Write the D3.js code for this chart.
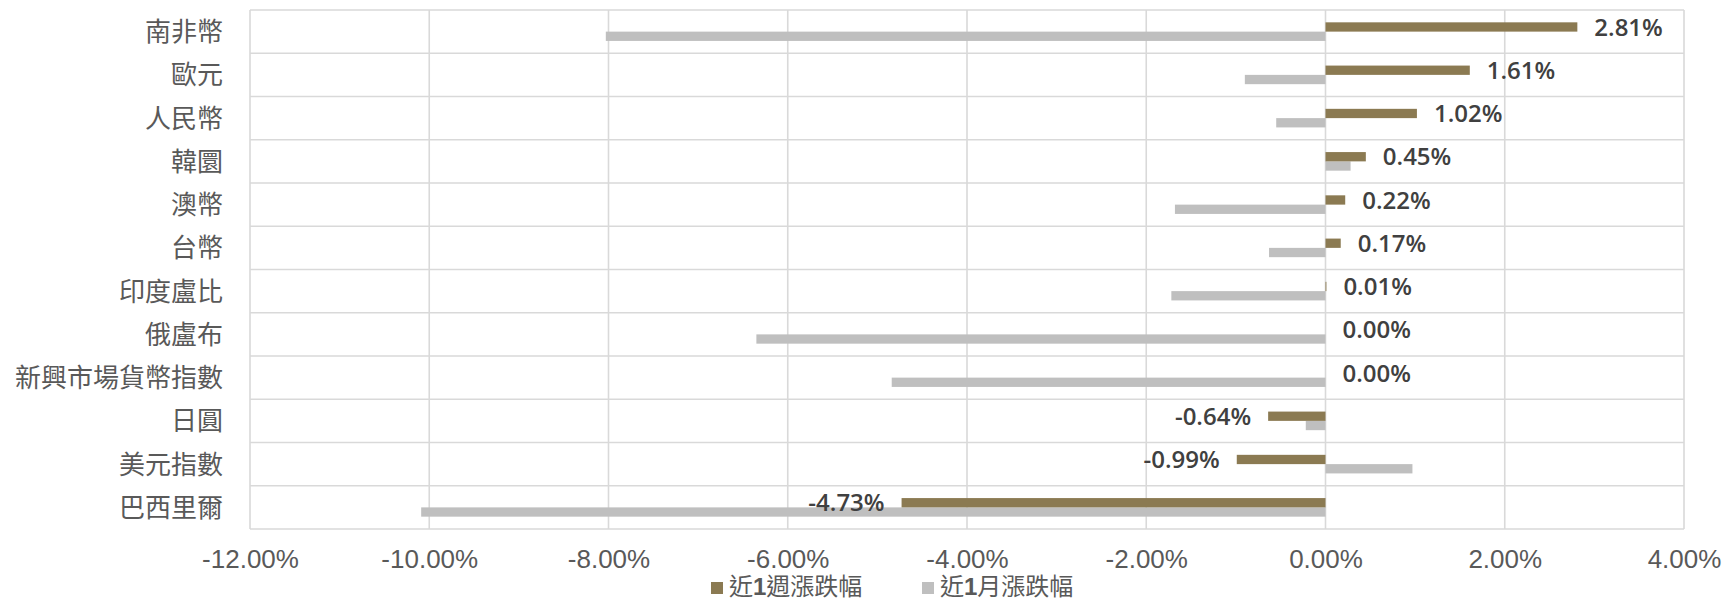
<!DOCTYPE html>
<html lang="zh-Hant">
<head>
<meta charset="utf-8">
<script src="https://cdn.jsdelivr.net/npm/d3@7"></script>
<style>
  html, body { margin: 0; padding: 0; background: #ffffff; }
  svg { display: block; }
</style>
</head>
<body>
<svg id="chart" width="1725" height="601"></svg>
<script>
// Currency moves: last week vs last month (%)
const categories = ["南非幣", "歐元", "人民幣", "韓圜", "澳幣", "台幣", "印度盧比", "俄盧布", "新興市場貨幣指數", "日圓", "美元指數", "巴西里爾"];
const weekChange = [2.81, 1.61, 1.02, 0.45, 0.22, 0.17, 0.01, 0.00, 0.00, -0.64, -0.99, -4.73];
const monthChange = [-8.03, -0.90, -0.55, 0.28, -1.68, -0.63, -1.72, -6.35, -4.84, -0.22, 0.97, -10.09];
const xTicks = [-12, -10, -8, -6, -4, -2, 0, 2, 4];
const seriesNames = ["近1週漲跌幅", "近1月漲跌幅"];
const seriesColors = ["#8b7a52", "#bfbfbf"];

const margin = { left: 250, right: 41, top: 10, bottom: 72 };
const width = 1725, height = 601;
const plotW = width - margin.left - margin.right;
const plotH = height - margin.top - margin.bottom;

const svg = d3.select("#chart");
const g = svg.append("g").attr("transform", `translate(${margin.left},${margin.top})`);

const x = d3.scaleLinear().domain([-12, 4]).range([0, plotW]);
const y = d3.scaleBand().domain(categories).range([0, plotH]).padding(0);
const barH = y.bandwidth() * 0.215;

const gridColor = "#d9d9d9";

// vertical gridlines at each tick (includes the plot's left and right edges)
g.append("g").selectAll("line").data(xTicks).join("line")
  .attr("x1", d => x(d)).attr("x2", d => x(d))
  .attr("y1", 0).attr("y2", plotH)
  .attr("stroke", gridColor).attr("stroke-width", 1.6);

// horizontal lines between categories
const rowEdges = categories.map(c => y(c)).concat([plotH]);
g.append("g").selectAll("line").data(rowEdges).join("line")
  .attr("x1", 0).attr("x2", plotW)
  .attr("y1", d => d).attr("y2", d => d)
  .attr("stroke", gridColor).attr("stroke-width", 1.6);

const rows = categories.map((c, i) => ({ c, week: weekChange[i], month: monthChange[i] }));
const center = d => y(d.c) + y.bandwidth() / 2;

// month bars (lower of each pair)
g.append("g").selectAll("rect").data(rows).join("rect")
  .attr("x", d => x(Math.min(0, d.month)))
  .attr("width", d => Math.abs(x(d.month) - x(0)))
  .attr("y", d => center(d))
  .attr("height", barH)
  .attr("fill", seriesColors[1]);

// week bars (upper of each pair)
g.append("g").selectAll("rect").data(rows).join("rect")
  .attr("x", d => x(Math.min(0, d.week)))
  .attr("width", d => Math.abs(x(d.week) - x(0)))
  .attr("y", d => center(d) - barH)
  .attr("height", barH)
  .attr("fill", seriesColors[0]);

// value labels for the week series
g.append("g").selectAll("text").data(rows).join("text")
  .attr("x", d => d.week < 0 ? x(d.week) - 17 : x(d.week) + 17)
  .attr("y", d => center(d) - barH / 2)
  .attr("dy", "0.36em")
  .attr("text-anchor", d => d.week < 0 ? "end" : "start")
  .attr("font-family", "'Open Sans', 'Noto Sans', sans-serif")
  .attr("font-weight", 600)
  .attr("font-size", 24)
  .attr("fill", "#404040")
  .text(d => d.week.toFixed(2) + "%");

// x axis labels
const xAxis = d3.axisBottom(x).tickValues(xTicks).tickSize(0).tickPadding(0)
  .tickFormat(d => d.toFixed(2) + "%");
const xg = g.append("g").attr("transform", `translate(0,${plotH})`).call(xAxis);
xg.select(".domain").remove();
xg.selectAll("text")
  .attr("y", 30)
  .attr("dy", "0.36em")
  .attr("font-family", "'Liberation Sans', Arial, sans-serif")
  .attr("font-size", 26)
  .attr("fill", "#595959");

// category labels
const yAxis = d3.axisLeft(y).tickSize(0).tickPadding(27);
const yg = g.append("g").call(yAxis);
yg.select(".domain").remove();
yg.selectAll("text")
  .attr("dy", "0.36em")
  .attr("font-family", "'Noto Sans CJK TC', 'Noto Sans CJK SC', sans-serif")
  .attr("font-size", 26)
  .attr("fill", "#595959");

// legend
const legendItems = [
  { name: seriesNames[0], color: seriesColors[0], x: 711 },
  { name: seriesNames[1], color: seriesColors[1], x: 922 }
];
const lg = svg.append("g");
legendItems.forEach(item => {
  lg.append("rect")
    .attr("x", item.x).attr("y", 582).attr("width", 12).attr("height", 12)
    .attr("fill", item.color);
  const t = lg.append("text")
    .attr("x", item.x + 18).attr("y", 595)
    .attr("font-family", "'Noto Sans CJK TC', sans-serif")
    .attr("font-size", 24)
    .attr("fill", "#595959");
  const m = item.name.match(/^(\D*)(\d+)(.*)$/);
  t.append("tspan").text(m[1]);
  t.append("tspan").attr("font-family", "'Liberation Sans', sans-serif").attr("font-weight", "bold").text(m[2]);
  t.append("tspan").text(m[3]);
});
</script>
</body>
</html>
